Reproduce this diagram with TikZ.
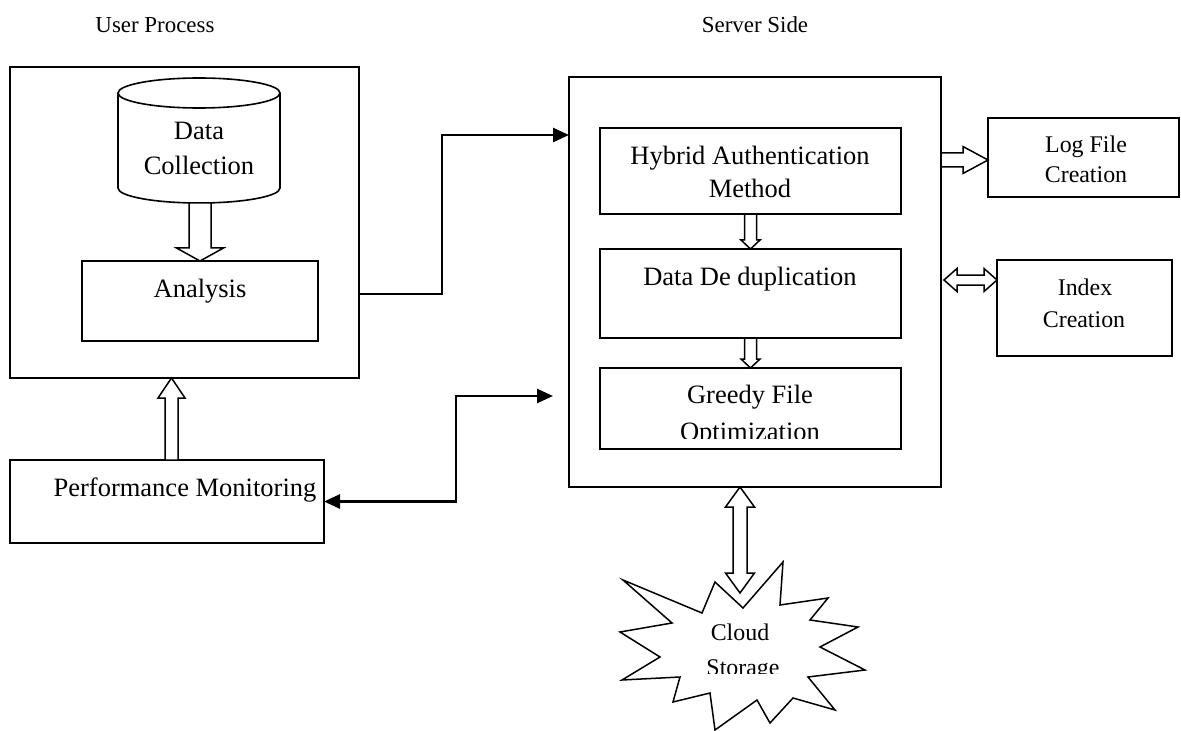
\documentclass[tikz,border=0pt]{standalone}
\usepackage{fontspec}
\setmainfont{Liberation Serif}
\usetikzlibrary{calc,arrows.meta}

% hollow single arrow: #1 from, #2 to (tip), #3 shaft half width, #4 head half width, #5 head length
\newcommand\HollowArrow[5]{%
  \coordinate (ha-h) at ($(#2)!#5!(#1)$);
  \draw[hollow] ($(#1)!#3!90:(#2)$) -- ($(ha-h)!#3!-90:(#1)$) -- ($(ha-h)!#4!-90:(#1)$) -- (#2)
     -- ($(ha-h)!#4!90:(#1)$) -- ($(ha-h)!#3!90:(#1)$) -- ($(#1)!#3!-90:(#2)$) -- cycle;
}
% hollow double arrow
\newcommand\HollowDouble[5]{%
  \coordinate (hd-a) at ($(#1)!#5!(#2)$);
  \coordinate (hd-b) at ($(#2)!#5!(#1)$);
  \draw[hollow] (#1) -- ($(hd-a)!#4!90:(#2)$) -- ($(hd-a)!#3!90:(#2)$) -- ($(hd-b)!#3!-90:(#1)$)
     -- ($(hd-b)!#4!-90:(#1)$) -- (#2) -- ($(hd-b)!#4!90:(#1)$) -- ($(hd-b)!#3!90:(#1)$)
     -- ($(hd-a)!#3!-90:(#2)$) -- ($(hd-a)!#4!-90:(#2)$) -- cycle;
}

\tikzset{
  box/.style={draw, rectangle, line width=1.6bp, inner sep=0pt, outer sep=0pt},
  hollow/.style={draw, fill=white, line width=1.5bp, line join=miter},
  conn/.style={draw, line width=2.7bp, >={Triangle[length=16bp,width=14bp]}},
  txt/.style={font=\fontsize{26.6}{32}\selectfont, inner sep=0pt, anchor=base},
  smalltxt/.style={font=\fontsize{24}{30}\selectfont, inner sep=0pt, anchor=base},
  headtxt/.style={font=\fontsize{23}{28}\selectfont, inner sep=0pt, anchor=base},
}

\begin{document}
\begin{tikzpicture}[x=1bp,y=-1bp]
\useasboundingbox (0,0) rectangle (1181,731);

% headers
\node[headtxt] (hup) at (155,33) {User Process};
\node[headtxt] (hss) at (755,33) {Server Side};

% user side boxes
\node[box, minimum width=349bp, minimum height=311bp] (ubox) at (184.5,222.5) {};
\node[box, minimum width=236bp, minimum height=80bp] (ana) at (200,301) {};
\node[box, minimum width=314bp, minimum height=83bp] (pbox) at (167,501.5) {};

% cylinder
\draw[line width=1.6bp] (118,93) -- (118,188) arc[start angle=180, end angle=360, x radius=81bp, y radius=15bp] -- (280,93);
\draw[line width=1.6bp] (199,93) ellipse[x radius=81bp, y radius=15bp];
\coordinate (cylbot) at (ana.north |- 0,203);

% server side boxes
\node[box, minimum width=372bp, minimum height=410bp] (sbox) at (755,282) {};
\node[box, minimum width=301bp, minimum height=86bp] (hyb) at (750.5,171) {};
\node[box, minimum width=301bp, minimum height=89bp] (dd) at (750.5,293.5) {};
\node[box, minimum width=301bp, minimum height=81bp] (gr) at (750.5,408.5) {};
\node[box, minimum width=191bp, minimum height=79bp] (log) at (1083.5,157.5) {};
\node[box, minimum width=175bp, minimum height=96bp] (idx) at (1084.5,308) {};

% cloud storage burst
\draw[line width=1.5bp, line join=miter] (623,580) -- (702,613) -- (715,582) -- (743,608) -- (783,562) -- (780,605)
  -- (828,598) -- (810,620) -- (858,627) -- (820,647) -- (865,670) -- (808,677) -- (835,710)
  -- (793,698) -- (770,723) -- (757,700) -- (715,730) -- (710,693) -- (673,702) -- (680,677)
  -- (622,680) -- (660,657) -- (620,632) -- (672,623) -- cycle;
\coordinate (cloudtop) at (740,593);

% hollow arrows
\HollowArrow{cylbot}{ana.north}{11bp}{23.5bp}{13bp}
\coordinate (pm1) at ($(pbox.north)+(4.5,0)$);
\coordinate (pm2) at (pm1 |- ubox.south);
\HollowArrow{pm1}{pm2}{6.5bp}{13.5bp}{20bp}
\HollowArrow{hyb.south}{dd.north}{6bp}{9.5bp}{9bp}
\HollowArrow{dd.south}{gr.north}{6bp}{9.5bp}{9bp}
\coordinate (la1) at (sbox.east |- 0,160);
\coordinate (la2) at (log.west |- 0,160);
\HollowArrow{la1}{la2}{7bp}{13.5bp}{25bp}
\coordinate (ia1) at ($(sbox.east |- 0,280)+(3,0)$);
\coordinate (ia2) at (idx.west |- 0,280);
\HollowDouble{ia1}{ia2}{5bp}{11.5bp}{13bp}
\coordinate (ca1) at (sbox.south -| 740,0);
\HollowDouble{ca1}{cloudtop}{7bp}{14.5bp}{20bp}

% connectors
\coordinate (c1s) at (ubox.east |- 0,294);
\coordinate (c1e) at (sbox.west |- 0,135);
\draw[conn, ->] (c1s) -- ++(83,0) |- (c1e);
\coordinate (c2e) at (553,396);
\draw[conn, <->] (pbox.east) -- ++(132,0) |- (c2e);

% texts
\node[txt] (tdata) at (199,140) {Data};
\node[txt] (tcoll) at (199,175) {Collection};
\node[txt] (tana) at (200,297) {Analysis};
\node[txt] (tpm) at (185,496) {Performance Monitoring};
\node[txt] (thyb1) at (750,165) {Hybrid Authentication};
\node[txt] (thyb2) at (750,198) {Method};
\node[txt] (tdd) at (750,285) {Data De duplication};
\node[txt] (tgr1) at (750,403) {Greedy File};
\begin{scope}
  \clip (600,368) rectangle (901,438.5);
  \node[txt] (tgr2) at (750,440) {Optimization};
\end{scope}
\node[smalltxt] (tlog1) at (1086,153) {Log File};
\node[smalltxt] (tlog2) at (1086,183) {Creation};
\node[smalltxt] (tidx1) at (1085,295) {Index};
\node[smalltxt] (tidx2) at (1084,327) {Creation};
\node[smalltxt] (tcl1) at (740,640) {Cloud};
\begin{scope}
  \clip (690,650) rectangle (800,673);
  \node[smalltxt] (tcl2) at (743,675) {Storage};
\end{scope}
\end{tikzpicture}
\end{document}
